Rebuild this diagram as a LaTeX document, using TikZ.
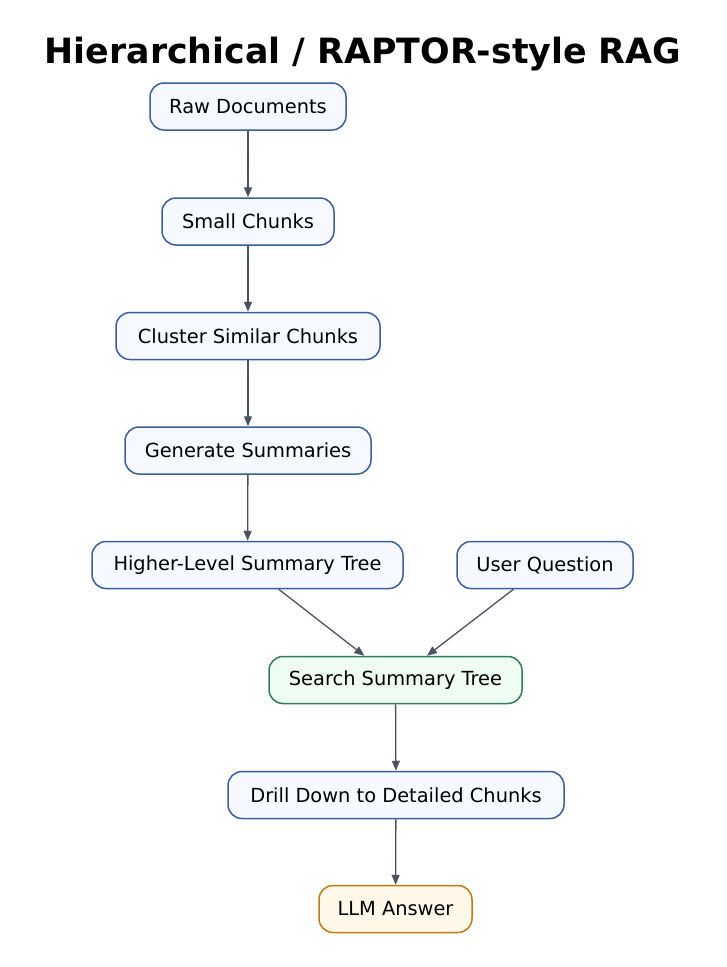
\documentclass[tikz,border=0pt]{standalone}
\usepackage{fontspec}
\setmainfont{DejaVu Sans}
\usetikzlibrary{arrows.meta}
\definecolor{bluebd}{HTML}{3A5F9A}
\definecolor{bluefill}{HTML}{F6F9FF}
\definecolor{greenbd}{HTML}{2F7D5A}
\definecolor{greenfill}{HTML}{EEFCF2}
\definecolor{orangebd}{HTML}{C07A12}
\definecolor{orangefill}{HTML}{FFF8E8}
\definecolor{edgecol}{HTML}{4B5263}
\begin{document}
\begin{tikzpicture}[x=1pt,y=-1pt,
  box/.style={draw=bluebd,fill=bluefill,line width=1.5pt,rounded corners=14pt,
    minimum height=47pt,inner sep=0pt,font=\fontsize{19.4}{22}\selectfont},
  greenbox/.style={box,draw=greenbd,fill=greenfill},
  orangebox/.style={box,draw=orangebd,fill=orangefill},
  conn/.style={draw=edgecol,line width=1.3pt,-{Triangle[length=10pt,width=8pt]}}]
\useasboundingbox (0,0) rectangle (726,967);
\node[font=\bfseries\fontsize{34.8}{40}\selectfont] (title) at (363,54) {Hierarchical / RAPTOR-style RAG};
\node[box,minimum width=196pt] (raw) at (248,106.5) {Raw Documents};
\node[box,minimum width=172pt] (small) at (248,221.5) {Small Chunks};
\node[box,minimum width=264pt] (cluster) at (248,336) {Cluster Similar Chunks};
\node[box,minimum width=246pt] (gen) at (248,450.5) {Generate Summaries};
\node[box,minimum width=311pt] (hl) at (247.5,565) {Higher-Level Summary Tree};
\node[box,minimum width=176pt] (uq) at (545,565) {User Question};
\node[greenbox,minimum width=253pt] (search) at (395.5,680) {Search Summary Tree};
\node[box,minimum width=336pt] (drill) at (396,795) {Drill Down to Detailed Chunks};
\node[orangebox,minimum width=153pt] (llm) at (395.5,909) {LLM Answer};
\draw[conn] (raw) -- (small);
\draw[conn] (small) -- (cluster);
\draw[conn] (cluster) -- (gen);
\draw[conn] (gen) -- (hl);
\draw[conn] (hl) -- (search);
\draw[conn] (uq) -- (search);
\draw[conn] (search) -- (drill);
\draw[conn] (drill) -- (llm);
\end{tikzpicture}
\end{document}
